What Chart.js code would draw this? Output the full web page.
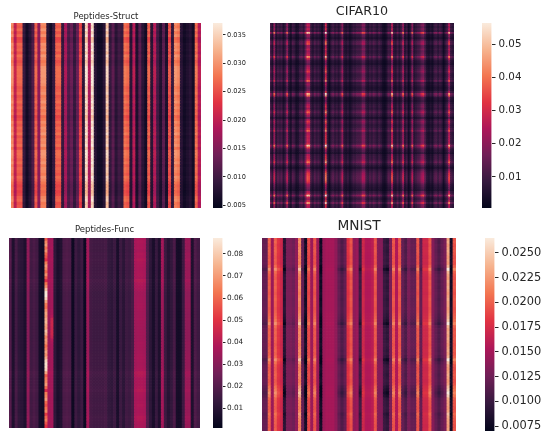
<!DOCTYPE html>
<html>
<head>
<meta charset="utf-8">
<script src="https://cdn.jsdelivr.net/npm/chart.js@4"></script>
<style>
  html, body { margin: 0; padding: 0; background: #fff; }
  body { width: 546px; height: 436px; position: relative; overflow: hidden; }
  canvas { position: absolute; filter: blur(0.35px); }
</style>
</head>
<body>
<script>
// colours of the seaborn "rocket" map, low to high
const rocketStops = ['#03051a', '#35193e', '#701f57', '#ad1759', '#e13342', '#f37651', '#f6b48f', '#faebdd'];

// The panels are too dense to type cell by cell, so each one is kept as values read
// from the picture per column and a level read per row. A cell is
// base + (column - base) * rowLevel, see buildCells().

// Peptides-Struct
const structColumns = [0.029, 0.020, 0.026, 0.026, 0.009, 0.006, 0.008, 0.011, 0.026, 0.016, 0.029, 0.029, 0.008, 0.006, 0.009, 0.026,
  0.026, 0.009, 0.018, 0.011, 0.013, 0.009, 0.013, 0.024, 0.008, 0.035, 0.018, 0.036, 0.008, 0.006, 0.006, 0.008,
  0.034, 0.009, 0.012, 0.008, 0.010, 0.009, 0.027, 0.026, 0.008, 0.019, 0.007, 0.012, 0.008, 0.006, 0.026, 0.008,
  0.019, 0.010, 0.007, 0.012, 0.007, 0.025, 0.009, 0.029, 0.028, 0.008, 0.006, 0.007, 0.008, 0.006, 0.027, 0.019];
const structRows = [1.02, 0.98, 1.04, 0.97, 1.03, 0.93, 0.95, 1.03, 1.0, 1.03, 0.97, 1.05, 1.0, 0.96, 0.99, 1.04,
  1.05, 1.04, 1.05, 1.03, 1.04, 1.02, 0.98, 1.0, 1.03, 0.97, 1.0, 1.04, 0.98, 1.02, 0.97, 1.0,
  0.93, 0.96, 1.02, 0.98, 1.03, 1.0, 1.05, 0.97, 1.02, 1.0, 1.04, 0.96, 1.04, 1.05, 1.03, 1.0,
  1.04, 0.98, 1.02, 1.0, 0.97, 1.03, 1.0, 0.96, 0.93, 0.95, 0.92, 0.94, 1.0, 1.02, 0.96, 0.98];
const structTicks = ['0.035', '0.030', '0.025', '0.020', '0.015', '0.010', '0.005'];

// Peptides-Func
const funcColumns = [0.020, 0.008, 0.017, 0.012, 0.011, 0.008, 0.032, 0.016, 0.018, 0.016, 0.006, 0.005, 0.066, 0.036, 0.037, 0.012,
  0.007, 0.009, 0.018, 0.019, 0.018, 0.004, 0.015, 0.012, 0.015, 0.004, 0.036, 0.017, 0.016, 0.016, 0.016, 0.016,
  0.017, 0.013, 0.012, 0.015, 0.007, 0.015, 0.011, 0.016, 0.015, 0.018, 0.037, 0.038, 0.038, 0.037, 0.020, 0.012,
  0.007, 0.014, 0.008, 0.036, 0.015, 0.010, 0.013, 0.018, 0.006, 0.006, 0.015, 0.034, 0.034, 0.008, 0.019, 0.016];
const funcRows = [1.0, 1.01, 0.99, 1.0, 0.98, 1.02, 1.0, 1.04, 1.01, 1.0, 0.99, 1.0, 1.01, 0.99, 1.06, 1.02,
  1.0, 0.98, 0.95, 0.95, 0.96, 0.96, 0.97, 0.97, 0.96, 0.95, 0.95, 0.96, 0.95, 0.95, 0.94, 0.95,
  0.95, 0.94, 0.95, 0.97, 0.96, 0.96, 0.97, 0.98, 0.99, 0.98, 0.97, 0.98, 1.0, 1.06, 1.04, 1.0,
  1.01, 1.0, 1.02, 1.05, 1.01, 1.0, 0.99, 1.0, 1.02, 1.0, 0.99, 1.0, 1.04, 1.03, 1.0, 0.99];
// the two columns of this panel that do not follow the row levels
const funcHotColumn = [0.058, 0.066, 0.070, 0.062, 0.068, 0.060, 0.056, 0.050, 0.064, 0.070, 0.066, 0.060, 0.068, 0.058, 0.048, 0.062,
  0.068, 0.078, 0.086, 0.087, 0.082, 0.072, 0.064, 0.062, 0.068, 0.072, 0.070, 0.074, 0.076, 0.072, 0.070, 0.078,
  0.074, 0.066, 0.070, 0.068, 0.062, 0.066, 0.072, 0.068, 0.074, 0.082, 0.085, 0.084, 0.082, 0.072, 0.058, 0.064,
  0.066, 0.070, 0.060, 0.047, 0.064, 0.066, 0.070, 0.060, 0.056, 0.062, 0.066, 0.052, 0.060, 0.064, 0.056, 0.050];
const funcSideColumn = [0.036, 0.036, 0.036, 0.037, 0.036, 0.036, 0.036, 0.037, 0.036, 0.036, 0.036, 0.036, 0.036, 0.036, 0.037, 0.036,
  0.036, 0.036, 0.036, 0.036, 0.036, 0.036, 0.036, 0.036, 0.037, 0.037, 0.039, 0.044, 0.045, 0.045, 0.044, 0.045,
  0.045, 0.043, 0.039, 0.037, 0.036, 0.036, 0.036, 0.036, 0.036, 0.036, 0.036, 0.036, 0.036, 0.037, 0.036, 0.036,
  0.036, 0.036, 0.036, 0.037, 0.036, 0.036, 0.036, 0.036, 0.036, 0.036, 0.036, 0.036, 0.036, 0.036, 0.036, 0.036];
const funcTicks = ['0.08', '0.07', '0.06', '0.05', '0.04', '0.03', '0.02', '0.01'];

// CIFAR10
const cifarColumns = [0.011, 0.006, 0.020, 0.006, 0.010, 0.008, 0.010, 0.005, 0.009, 0.019,
  0.007, 0.004, 0.010, 0.008, 0.004, 0.005, 0.009, 0.010, 0.007, 0.015,
  0.026, 0.024, 0.008, 0.006, 0.010, 0.007, 0.009, 0.006, 0.003, 0.008,
  0.029, 0.007, 0.003, 0.008, 0.010, 0.007, 0.009, 0.006, 0.010, 0.019,
  0.006, 0.005, 0.007, 0.004, 0.006, 0.009, 0.008, 0.010, 0.010, 0.011,
  0.018, 0.017, 0.008, 0.006, 0.009, 0.007, 0.010, 0.008, 0.006, 0.009,
  0.007, 0.004, 0.003, 0.005, 0.010, 0.009, 0.025, 0.007, 0.006, 0.010,
  0.006, 0.010, 0.020, 0.006, 0.009, 0.003, 0.007, 0.019, 0.006, 0.008,
  0.010, 0.011, 0.016, 0.018, 0.010, 0.005, 0.004, 0.006, 0.004, 0.009,
  0.010, 0.007, 0.010, 0.008, 0.003, 0.007, 0.011, 0.024, 0.009, 0.007];
const cifarRows = [0.9, 1.1, 0.9, 1.1, 0.9, 2.0, 0.9, 0.8, 0.6, 1.0,
  1.3, 1.4, 0.9, 0.9, 1.1, 0.9, 1.0, 1.1, 1.7, 1.2,
  0.8, 0.7, 0.6, 0.9, 1.0, 1.1, 1.3, 1.0, 0.9, 1.0,
  1.1, 1.5, 0.8, 0.9, 0.7, 0.6, 0.7, 1.1, 1.9, 1.6,
  0.8, 0.7, 0.6, 0.8, 1.0, 1.1, 0.9, 1.2, 1.5, 1.1,
  0.9, 0.6, 1.0, 1.3, 1.1, 0.9, 1.0, 1.2, 1.5, 1.0,
  1.0, 1.1, 1.05, 1.1, 1.05, 1.2, 2.0, 1.4, 0.9, 0.8,
  0.6, 1.0, 1.1, 1.1, 1.3, 1.6, 1.1, 0.8, 0.6, 0.9,
  1.1, 1.3, 1.35, 1.4, 1.4, 1.35, 1.2, 0.9, 0.8, 0.7,
  0.6, 1.0, 1.2, 2.0, 1.1, 0.9, 1.2, 1.8, 1.1, 1.0];
const cifarTicks = ['0.05', '0.04', '0.03', '0.02', '0.01'];

// MNIST
const mnistColumns = [0.012, 0.012, 0.020, 0.0145, 0.020, 0.018, 0.017, 0.009, 0.013, 0.013, 0.0125, 0.014, 0.0215, 0.012, 0.008, 0.019,
  0.0145, 0.0195, 0.0145, 0.0078, 0.0145, 0.015, 0.015, 0.015, 0.014, 0.012, 0.011, 0.012, 0.018, 0.0195, 0.014, 0.0145,
  0.0102, 0.017, 0.0155, 0.0155, 0.016, 0.0195, 0.0135, 0.0135, 0.010, 0.0095, 0.013, 0.0195, 0.0155, 0.0195, 0.012, 0.011,
  0.013, 0.012, 0.012, 0.0195, 0.012, 0.017, 0.017, 0.0195, 0.0135, 0.012, 0.011, 0.012, 0.013, 0.023, 0.008, 0.0195];
const mnistRows = [1.0, 1.05, 0.95, 1.0, 1.05, 1.0, 0.95, 1.0, 0.95, 1.1, 1.4, 1.1, 1.0, 0.95, 1.05, 1.0,
  1.05, 1.0, 0.95, 1.0, 1.05, 1.0, 1.0, 0.95, 1.0, 1.05, 1.1, 1.2, 1.4, 1.1, 1.0, 1.05,
  1.0, 1.05, 1.0, 0.95, 1.0, 1.05, 1.0, 1.1, 1.4, 1.15, 1.0, 0.95, 1.0, 1.05, 1.0, 0.95, 1.0, 1.15,
  1.25, 1.4, 1.25, 1.05, 1.0, 1.0, 0.95, 1.0, 1.15, 1.05, 1.0, 1.0, 0.95, 1.0];
const mnistTicks = ['0.0250', '0.0225', '0.0200', '0.0175', '0.0150', '0.0125', '0.0100', '0.0075'];

Chart.defaults.font.family = "'DejaVu Sans'";
Chart.defaults.color = '#262626';
Chart.defaults.animation = false;

function hexToRgb(hex) {
  return [1, 3, 5].map(i => parseInt(hex.slice(i, i + 2), 16));
}

function rocketColor(t) {
  const pos = Math.min(Math.max(t, 0), 1) * (rocketStops.length - 1);
  const i = Math.min(Math.floor(pos), rocketStops.length - 2);
  const a = hexToRgb(rocketStops[i]);
  const b = hexToRgb(rocketStops[i + 1]);
  const mix = a.map((c, k) => Math.round(c + (b[k] - c) * (pos - i)));
  return `rgb(${mix[0]},${mix[1]},${mix[2]})`;
}

function buildCells(columns, rows, base, fixedColumns) {
  const cells = [];
  rows.forEach((level, r) => {
    columns.forEach((col, c) => {
      const fixed = fixedColumns[c];
      const v = fixed ? fixed[r] : base + (col - base) * level;
      cells.push({ x: c + 0.5, y: r + 0.5, v: v });
    });
  });
  return cells;
}

function addCanvas(left, top, width, height) {
  const canvas = document.createElement('canvas');
  canvas.width = width;
  canvas.height = height;
  canvas.style.left = left + 'px';
  canvas.style.top = top + 'px';
  canvas.style.width = width + 'px';
  canvas.style.height = height + 'px';
  document.body.appendChild(canvas);
  return canvas;
}

function drawHeatmap(p) {
  const height = p.plotBottom - p.canvasTop;
  const canvas = addCanvas(p.left, p.canvasTop, p.width, height);
  const side = p.width / p.columns.length;
  new Chart(canvas, {
    type: 'scatter',
    data: {
      datasets: [{
        data: buildCells(p.columns, p.rows, p.base, p.fixedColumns || {}),
        pointStyle: 'rect',
        pointRadius: (side + 0.7) / Math.SQRT2,
        pointBorderWidth: 0,
        pointBackgroundColor: ctx => rocketColor((ctx.raw.v - p.min) / (p.max - p.min))
      }]
    },
    options: {
      responsive: false,
      events: [],
      layout: { padding: 0, autoPadding: false },
      plugins: {
        legend: { display: false },
        tooltip: { enabled: false },
        title: {
          display: true,
          text: p.title,
          color: '#262626',
          font: { size: p.titleSize, weight: 'normal' },
          padding: p.titlePadding
        }
      },
      scales: {
        x: { type: 'linear', display: false, min: 0, max: p.columns.length },
        y: { type: 'linear', display: false, reverse: true, min: 0, max: p.rows.length }
      }
    }
  });
}

function drawColorbar(p) {
  const pad = 12;
  const canvas = addCanvas(p.barLeft, p.canvasTop + p.plotTopOffset - pad, p.barCanvasWidth, p.plotBottom - p.canvasTop - p.plotTopOffset + pad * 2);
  new Chart(canvas, {
    type: 'bar',
    data: {
      labels: [p.title],
      datasets: [{
        data: [[p.min, p.max]],
        barPercentage: 1,
        categoryPercentage: 1,
        borderWidth: 0,
        backgroundColor: ctx => {
          const area = ctx.chart.chartArea;
          if (!area) return rocketStops[0];
          const gradient = ctx.chart.ctx.createLinearGradient(0, area.bottom, 0, area.top);
          rocketStops.forEach((c, i) => gradient.addColorStop(i / (rocketStops.length - 1), c));
          return gradient;
        }
      }]
    },
    options: {
      responsive: false,
      events: [],
      layout: { padding: { top: pad, bottom: pad, left: 0, right: 0 } },
      plugins: { legend: { display: false }, tooltip: { enabled: false } },
      scales: {
        x: { display: false },
        y: {
          position: 'right',
          min: p.min,
          max: p.max,
          border: { display: false },
          grid: { drawOnChartArea: false, drawTicks: true, tickLength: p.tickLength, tickWidth: 1, tickColor: '#262626' },
          afterBuildTicks: axis => { axis.ticks = p.ticks.map(t => ({ value: Number(t) })); },
          afterFit: axis => { axis.width = p.barCanvasWidth - p.barWidth; },
          ticks: {
            autoSkip: false,
            maxRotation: 0,
            padding: p.tickPadding,
            font: { size: p.tickSize },
            callback: value => p.ticks.find(t => Number(t) === value)
          }
        }
      }
    }
  });
}

const panels = [
  { title: 'Peptides-Struct', columns: structColumns, rows: structRows, base: 0, ticks: structTicks, min: 0.0045, max: 0.0371,
    left: 11, width: 190, canvasTop: 0, plotTopOffset: 23, plotBottom: 208, titleSize: 8.5, titlePadding: { top: 11.6, bottom: 1.2 },
    barLeft: 213, barWidth: 9.5, barCanvasWidth: 50, tickSize: 6.6, tickLength: 3, tickPadding: 1.5 },
  { title: 'CIFAR10', columns: cifarColumns, rows: cifarRows, base: 0, ticks: cifarTicks, min: 0.0006, max: 0.0565,
    left: 270, width: 184, canvasTop: 0, plotTopOffset: 23, plotBottom: 208, titleSize: 12.7, titlePadding: { top: 4.5, bottom: 3.3 },
    barLeft: 482, barWidth: 9.5, barCanvasWidth: 60, tickSize: 10.3, tickLength: 4, tickPadding: 3 },
  { title: 'Peptides-Func', columns: funcColumns, rows: funcRows, base: 0, fixedColumns: { 12: funcHotColumn, 14: funcSideColumn }, ticks: funcTicks, min: 0.0012, max: 0.0872,
    left: 9, width: 191, canvasTop: 218, plotTopOffset: 20, plotBottom: 428, titleSize: 8.5, titlePadding: { top: 7, bottom: 2.8 },
    barLeft: 213, barWidth: 9.5, barCanvasWidth: 50, tickSize: 7.3, tickLength: 3, tickPadding: 1.5 },
  { title: 'MNIST', columns: mnistColumns, rows: mnistRows, base: 0.0145, ticks: mnistTicks, min: 0.0070, max: 0.0265,
    left: 262, width: 194, canvasTop: 218, plotTopOffset: 20, plotBottom: 431, titleSize: 13.7, titlePadding: { top: 0, bottom: 3.6 },
    barLeft: 485, barWidth: 9.5, barCanvasWidth: 61, tickSize: 11.4, tickLength: 4, tickPadding: 3 }
];

panels.forEach(p => {
  drawHeatmap(p);
  drawColorbar(p);
});
</script>
</body>
</html>
